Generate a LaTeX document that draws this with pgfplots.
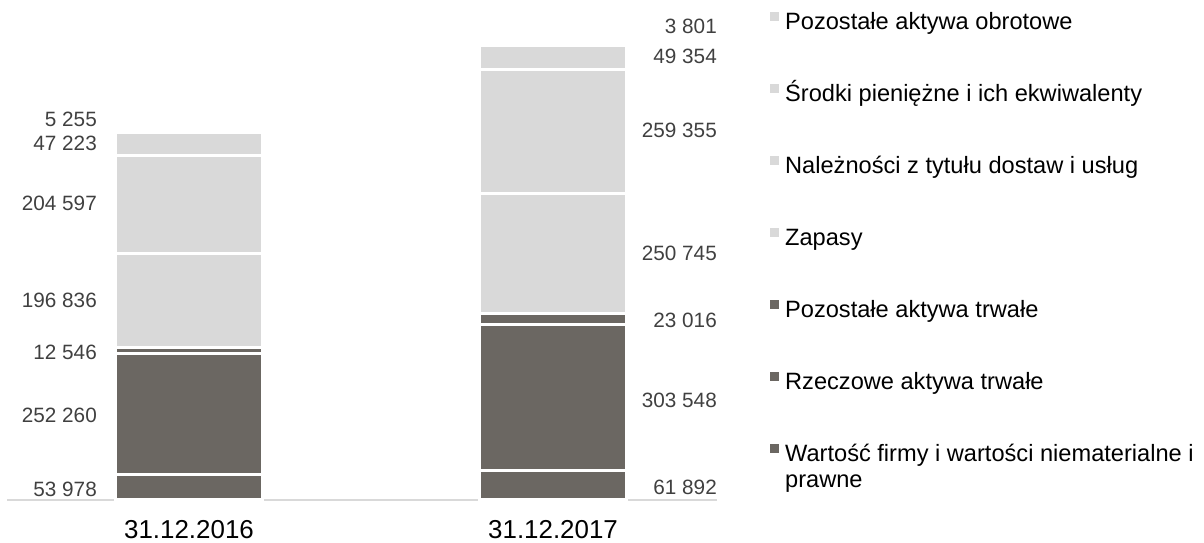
\documentclass[border=0pt]{standalone}
\usepackage{fontspec}
\setmainfont{Liberation Sans}
\usepackage{pgfplots}
\usepackage{pgfplotstable}
\pgfplotsset{compat=1.18}
\definecolor{dark}{RGB}{107,103,98}
\definecolor{light}{RGB}{217,217,217}
\definecolor{numgray}{RGB}{64,64,64}

% label positions (y in data units), left of 2016 bar / right of 2017 bar
\pgfplotstableread[col sep=comma,row sep=\\]{
x,y,lab\\
-0.2527,795400,5 255\\
-0.2527,745300,47 223\\
-0.2527,620000,204 597\\
-0.2527,417500,196 836\\
-0.2527,309000,12 546\\
-0.2527,177500,252 260\\
-0.2527,23000,53 978\\
}\lefttab
\pgfplotstableread[col sep=comma,row sep=\\]{
x,y,lab\\
1.4505,989500,3 801\\
1.4505,926900,49 354\\
1.4505,772400,259 355\\
1.4505,515700,250 745\\
1.4505,375800,23 016\\
1.4505,208800,303 548\\
1.4505,27100,61 892\\
}\righttab

\pgfplotsset{
  frame/.style={scale only axis, width=710bp, height=479bp,
    xmin=-0.5, xmax=1.4505, ymin=0, ymax=1000000, clip=false},
}

\begin{document}
\begin{tikzpicture}
\begin{axis}[
  frame,
  ybar stacked,
  bar width=147bp,
  axis y line=none,
  axis x line*=bottom,
  x axis line style={draw=light, line width=1.5bp},
  xtick={0,1},
  xticklabels={31.12.2016,31.12.2017},
  major tick length=0pt,
  xticklabel style={font=\fontsize{26}{30}\selectfont, inner sep=0pt, anchor=north, yshift=-20bp},
  reverse legend,
  legend cell align=left,
  legend style={at={(axis description cs:1.0746,1.0188)}, anchor=north west,
    draw=none, fill=none, inner sep=0pt, row sep=50bp, column sep=6bp,
    font=\fontsize{23.7}{26}\selectfont,
    nodes={inner sep=0pt, text height=17bp, text depth=5bp}},
  legend image code/.code={\fill[#1, draw=none] (0bp,2bp) rectangle (9bp,11bp);},
  seg/.style={fill=#1, draw=white, line width=3bp},
]
\addplot[seg=dark] coordinates {(0,53978) (1,61892)};
\addlegendentry{\begin{tabular}[t]{@{}l@{}}Wartość firmy i wartości niematerialne i\\prawne\end{tabular}}
\addplot[seg=dark] coordinates {(0,252260) (1,303548)};
\addlegendentry{Rzeczowe aktywa trwałe}
\addplot[seg=dark] coordinates {(0,12546) (1,23016)};
\addlegendentry{Pozostałe aktywa trwałe}
\addplot[seg=light] coordinates {(0,196836) (1,250745)};
\addlegendentry{Zapasy}
\addplot[seg=light] coordinates {(0,204597) (1,259355)};
\addlegendentry{Należności z tytułu dostaw i usług}
\addplot[seg=light] coordinates {(0,47223) (1,49354)};
\addlegendentry{Środki pieniężne i ich ekwiwalenty}
\addplot[seg=light] coordinates {(0,5255) (1,3801)};
\addlegendentry{Pozostałe aktywa obrotowe}
\end{axis}

% value labels, same frame without bars
\begin{axis}[
  frame,
  hide axis,
  lbl/.style={only marks, mark=*, mark size=0pt,
    mark options={draw=none, fill=none},
    nodes near coords, point meta=explicit symbolic,
    every node near coord/.append style={anchor=east, text=numgray, inner sep=0pt,
      font=\fontsize{20.8}{24}\selectfont}},
]
\addplot[lbl] table[x=x, y=y, meta=lab] \lefttab;
\addplot[lbl] table[x=x, y=y, meta=lab] \righttab;
\end{axis}
\pgfresetboundingbox
\path[use as bounding box] (-7bp,-43bp) rectangle (1197bp,500bp);
\end{tikzpicture}
\end{document}
